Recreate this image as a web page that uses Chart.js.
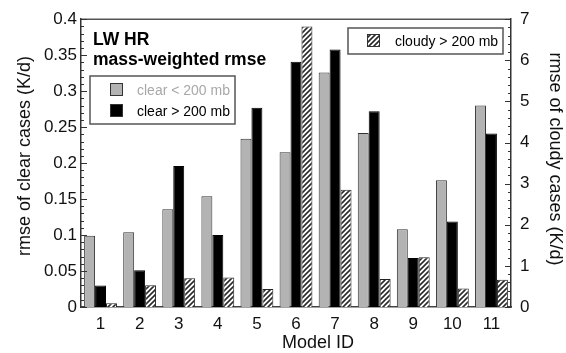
<!DOCTYPE html>
<html>
<head>
<meta charset="utf-8">
<script src="https://cdn.jsdelivr.net/npm/chart.js@4.4.1/dist/chart.umd.min.js"></script>
<style>
  html, body { margin: 0; padding: 0; background: #fff; }
  #wrap { width: 566px; height: 353px; }
</style>
</head>
<body>
<div id="wrap"><canvas id="c" width="566" height="353"></canvas></div>
<script>
// Model IDs on the category axis
const models = ['1', '2', '3', '4', '5', '6', '7', '8', '9', '10', '11'];

// Series names
const seriesLabels = ['clear < 200 mb', 'clear > 200 mb', 'cloudy > 200 mb'];

// rmse of clear cases (K/d), left axis
const clearLt200 = [0.099, 0.104, 0.136, 0.154, 0.234, 0.215, 0.326, 0.242, 0.108, 0.176, 0.280];
const clearGt200 = [0.030, 0.051, 0.196, 0.100, 0.277, 0.341, 0.358, 0.272, 0.068, 0.119, 0.241];

// rmse of cloudy cases (K/d), right axis
const cloudyGt200 = [0.09, 0.53, 0.70, 0.72, 0.44, 6.82, 2.85, 0.68, 1.21, 0.45, 0.66];

// Tick values
const clearTicks = [0, 0.05, 0.1, 0.15, 0.2, 0.25, 0.3, 0.35, 0.4];
const cloudyTicks = [0, 1, 2, 3, 4, 5, 6, 7];

// Headline text
const headline = ['LW HR', 'mass-weighted rmse'];
const axisTitles = { left: 'rmse of clear cases (K/d)', right: 'rmse of cloudy cases (K/d)', bottom: 'Model ID' };

const FONT = '"Liberation Sans", Arial, Helvetica, sans-serif';

// Diagonal hatch fill for the cloudy bars
function makeHatch() {
  const n = 5;
  const t = document.createElement('canvas');
  t.width = n; t.height = n;
  const g = t.getContext('2d');
  g.fillStyle = '#ffffff';
  g.fillRect(0, 0, n, n);
  g.strokeStyle = '#2a2a2a';
  g.lineWidth = 1.6;
  g.beginPath();
  g.moveTo(-1, n + 1); g.lineTo(n + 1, -1);
  g.moveTo(-2, 2); g.lineTo(2, -2);
  g.moveTo(n - 2, n + 2); g.lineTo(n + 2, n - 2);
  g.stroke();
  return g.createPattern(t, 'repeat');
}
const hatch = makeHatch();

const GRAY = '#b3b3b3';

// Inward major/minor ticks, top frame line, headline, legends and axis titles
const decorations = {
  id: 'decorations',
  afterDraw(chart) {
    const ctx = chart.ctx;
    const a = chart.chartArea;
    const yl = chart.scales.y, yr = chart.scales.y1;
    ctx.save();

    // top frame line
    ctx.strokeStyle = '#555';
    ctx.lineWidth = 1.5;
    ctx.beginPath();
    ctx.moveTo(a.left, a.top);
    ctx.lineTo(a.right, a.top);
    ctx.stroke();

    // left axis ticks: majors every 0.05, minors every 0.01
    ctx.strokeStyle = '#333';
    ctx.lineWidth = 1;
    for (let i = 0; i <= 40; i++) {
      const v = i / 100;
      const py = Math.round(yl.getPixelForValue(v)) + 0.5;
      const len = (i % 5 === 0) ? 6 : 3;
      ctx.beginPath();
      ctx.moveTo(a.left, py);
      ctx.lineTo(a.left + len, py);
      ctx.stroke();
    }
    // right axis ticks: majors every 1, minors every 0.2
    for (let i = 0; i <= 35; i++) {
      const v = i / 5;
      const py = Math.round(yr.getPixelForValue(v)) + 0.5;
      const len = (i % 5 === 0) ? 6 : 3;
      ctx.beginPath();
      ctx.moveTo(a.right, py);
      ctx.lineTo(a.right - len, py);
      ctx.stroke();
    }

    // headline
    ctx.fillStyle = '#000';
    ctx.font = 'bold 17.5px ' + FONT;
    ctx.textAlign = 'left';
    ctx.textBaseline = 'alphabetic';
    ctx.fillText(headline[0], 93, 45);
    ctx.fillText(headline[1], 93, 65);

    const ds = chart.data.datasets;

    // legend for the clear series
    ctx.strokeStyle = '#555';
    ctx.lineWidth = 1.5;
    ctx.strokeRect(90, 76, 145, 48);
    ctx.font = '14px ' + FONT;
    const rows = [
      { ds: ds[0], y: 83, text: '#a8a8a8' },
      { ds: ds[1], y: 104, text: '#000' }
    ];
    rows.forEach(r => {
      ctx.fillStyle = r.ds.backgroundColor;
      ctx.fillRect(110, r.y, 13, 13);
      ctx.strokeStyle = '#333';
      ctx.lineWidth = 1;
      ctx.strokeRect(110.5, r.y + 0.5, 12, 12);
      ctx.fillStyle = r.text;
      ctx.fillText(r.ds.label, 137, r.y + 12);
    });

    // legend for the cloudy series
    ctx.strokeStyle = '#555';
    ctx.lineWidth = 1.5;
    ctx.strokeRect(348, 28, 155, 26);
    ctx.fillStyle = hatch;
    ctx.fillRect(367, 34, 13, 13);
    ctx.strokeStyle = '#333';
    ctx.lineWidth = 1;
    ctx.strokeRect(367.5, 34.5, 12, 12);
    ctx.fillStyle = '#000';
    ctx.fillText(ds[2].label, 395, 46);

    // axis titles
    ctx.font = '18px ' + FONT;
    ctx.fillStyle = '#111';
    ctx.textAlign = 'center';
    ctx.textBaseline = 'middle';
    ctx.save();
    ctx.translate(25, 156);
    ctx.rotate(-Math.PI / 2);
    ctx.fillText(axisTitles.left, 0, 0);
    ctx.restore();
    ctx.save();
    ctx.translate(555, 159);
    ctx.rotate(Math.PI / 2);
    ctx.fillText(axisTitles.right, 0, 0);
    ctx.restore();
    ctx.fillText(axisTitles.bottom, 318, 343);

    ctx.restore();
  }
};

const tickFont = { family: FONT, size: 17 };

new Chart(document.getElementById('c'), {
  type: 'bar',
  data: {
    labels: models,
    datasets: [
      {
        label: seriesLabels[0], data: clearLt200, yAxisID: 'y',
        backgroundColor: GRAY, borderColor: '#333', borderWidth: 1,
        categoryPercentage: 0.84, barPercentage: 1.0
      },
      {
        label: seriesLabels[1], data: clearGt200, yAxisID: 'y',
        backgroundColor: '#000', borderColor: '#000', borderWidth: 1,
        categoryPercentage: 0.84, barPercentage: 1.0
      },
      {
        label: seriesLabels[2], data: cloudyGt200, yAxisID: 'y1',
        backgroundColor: hatch, borderColor: '#222', borderWidth: 1,
        categoryPercentage: 0.84, barPercentage: 1.0
      }
    ]
  },
  options: {
    responsive: false,
    animation: false,
    devicePixelRatio: 1,
    layout: { padding: { top: 19, left: 0, right: 0, bottom: 0 } },
    plugins: { legend: { display: false }, tooltip: { enabled: false }, title: { display: false } },
    scales: {
      x: {
        grid: { display: false, drawTicks: false, tickLength: 0 },
        border: { display: true, color: '#444', width: 1.5 },
        ticks: { font: tickFont, color: '#111', padding: 7, maxRotation: 0 },
        afterFit: s => { s.height = 46; }
      },
      y: {
        position: 'left', min: 0, max: 0.4,
        grid: { display: false, drawTicks: false, tickLength: 0 },
        border: { display: true, color: '#333', width: 1.5 },
        ticks: { font: tickFont, color: '#111', padding: 4, callback: v => String(+(+v).toFixed(2)) },
        afterBuildTicks: s => { s.ticks = clearTicks.map(v => ({ value: v })); },
        afterFit: s => { s.width = 81; }
      },
      y1: {
        position: 'right', min: 0, max: 7,
        grid: { display: false, drawTicks: false, tickLength: 0 },
        border: { display: true, color: '#333', width: 1.5 },
        ticks: { font: tickFont, color: '#111', padding: 9, callback: v => String(v) },
        afterBuildTicks: s => { s.ticks = cloudyTicks.map(v => ({ value: v })); },
        afterFit: s => { s.width = 55; }
      }
    }
  },
  plugins: [decorations]
});
</script>
</body>
</html>
